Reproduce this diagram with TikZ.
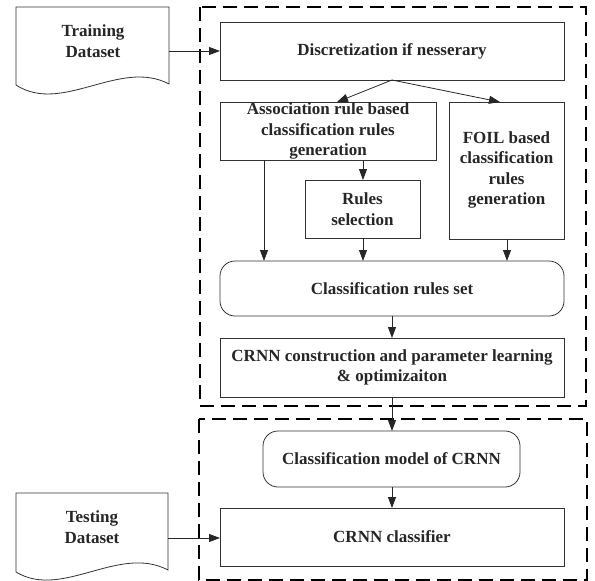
\documentclass[tikz,border=0pt]{standalone}
\usepackage{fontspec}
\setmainfont{Liberation Serif}
\usetikzlibrary{arrows.meta}
\begin{document}
\begin{tikzpicture}[x=1pt,y=-1pt,
  every node/.style={font=\fontsize{17}{20.5}\selectfont\bfseries, text=black!85, align=center, inner sep=0pt},
  box/.style={draw=black!80, line width=0.8pt},
  rbox/.style={box, rounded corners=15pt},
  frame/.style={draw=black, line width=1.8pt, dash pattern=on 14pt off 7pt},
  arr/.style={draw=black!85, line width=0.8pt, -{Triangle[length=11pt,width=8pt]}},
  doc/.style={draw=black!80, line width=0.8pt}]
\useasboundingbox (0,0) rectangle (595,581);

% dashed frames for training and testing phases
\draw[frame] (200,7) rectangle (586,406);
\draw[frame] (199,419) rectangle (587,580);

% document shapes
\draw[doc] (16,7) -- (169,7) -- (169,84) .. controls (120,58) and (62,115) .. (16,85) -- cycle;
\node (train) at (93,41) {Training\\Dataset};
\coordinate (trainout) at (169,51);
\draw[doc] (16,493) -- (168,493) -- (168,570) .. controls (119,544) and (62,600) .. (16,572) -- cycle;
\node (test) at (92,527) {Testing\\Dataset};
\coordinate (testout) at (168,538);

% process boxes
\draw[box] (220,22) rectangle (564,80);
\node (disc) at (392,51) {Discretization if nesserary};
\draw[box] (220,102) rectangle (436,160);
\node (assoc) at (328,131) {Association rule based\\classification rules\\generation};
\draw[box] (449,102) rectangle (564,239);
\node (foil) at (506.5,170) {FOIL based\\classification\\rules\\generation};
\draw[box] (305,180) rectangle (420,238);
\node (sel) at (362.5,209) {Rules\\selection};
\draw[rbox] (220,261) rectangle (564,316);
\node (set) at (392,288.5) {Classification rules set};
\draw[box] (220,338) rectangle (564,397);
\node (crnn) at (392,367.5) {CRNN construction and parameter learning\\\& optimizaiton};
\draw[rbox] (263,431) rectangle (520,487);
\node (model) at (391.5,459) {Classification model of CRNN};
\draw[box] (220,508) rectangle (564,566);
\node (cls) at (392,537) {CRNN classifier};

% connectors
\coordinate (discb) at (392,80);
\draw[arr] (trainout) -- (220,51);
\draw[arr] (testout) -- (220,538);
\draw[arr] (discb) -- (337,102);
\draw[arr] (discb) -- (500,102);
\draw[arr] (363,160) -- (363,180);
\draw[arr] (264,160) -- (264,261);
\draw[arr] (363,238) -- (363,261);
\draw[arr] (507,239) -- (507,261);
\draw[arr] (392,316) -- (392,338);
\draw[arr] (392,397) -- (392,431);
\draw[arr] (392,487) -- (392,508);
\end{tikzpicture}
\end{document}
